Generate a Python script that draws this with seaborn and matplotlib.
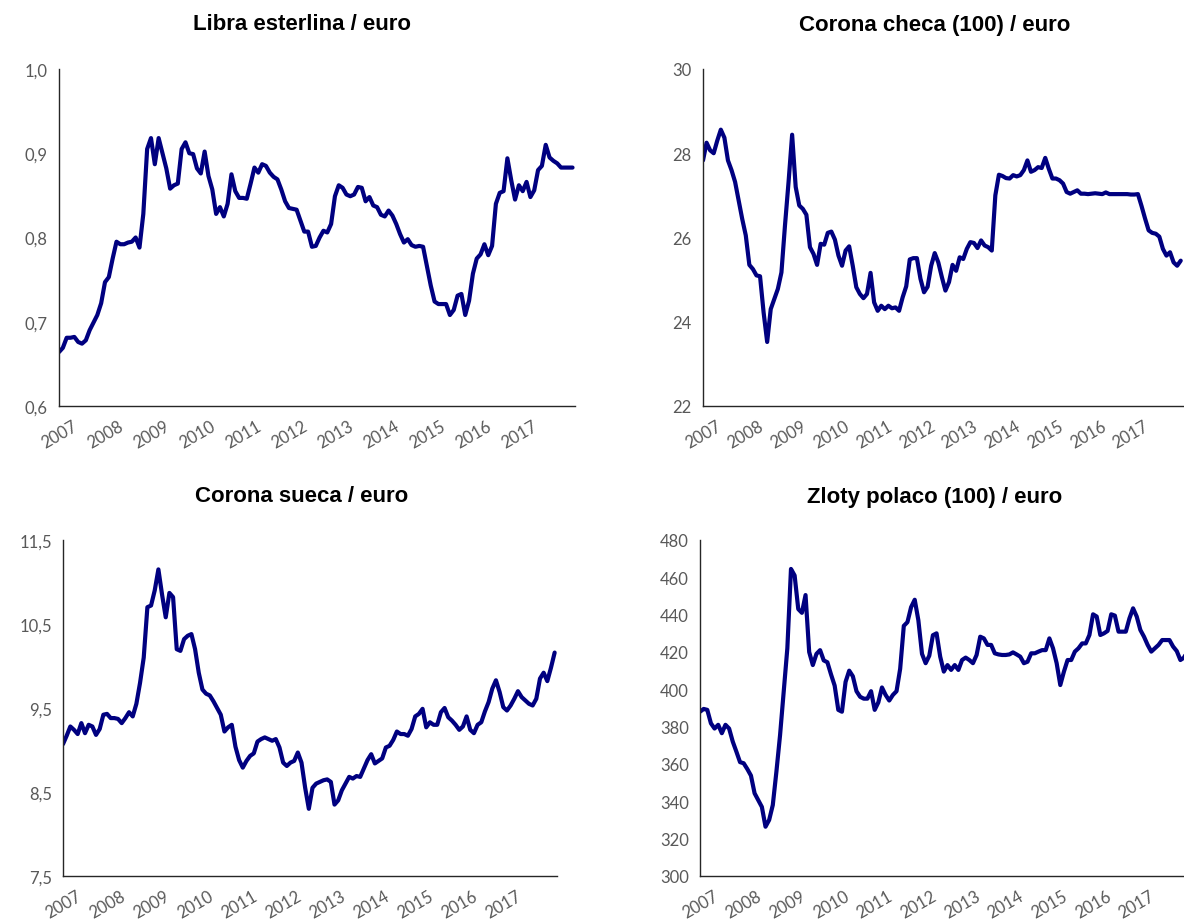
import numpy as np
import pandas as pd
import seaborn as sns
import matplotlib
matplotlib.use("Agg")
import matplotlib.pyplot as plt
from matplotlib.ticker import FuncFormatter

# monthly averages, Jan 2007 - Mar 2018
libra = [
    0.664, 0.669, 0.681, 0.681, 0.682, 0.676, 0.674, 0.678, 0.690, 0.699, 0.708, 0.722,
    0.747, 0.753, 0.775, 0.795, 0.792, 0.792, 0.794, 0.795, 0.800, 0.788, 0.828, 0.905,
    0.918, 0.887, 0.918, 0.900, 0.882, 0.858, 0.862, 0.864, 0.905, 0.913, 0.900, 0.899,
    0.882, 0.876, 0.902, 0.873, 0.857, 0.828, 0.836, 0.825, 0.840, 0.875, 0.855, 0.847,
    0.847, 0.846, 0.864, 0.883, 0.877, 0.887, 0.885, 0.877, 0.872, 0.869, 0.857, 0.843,
    0.835, 0.834, 0.833, 0.820, 0.807, 0.807, 0.789, 0.790, 0.800, 0.808, 0.806, 0.816,
    0.849, 0.862, 0.859, 0.851, 0.849, 0.851, 0.860, 0.859, 0.843, 0.848, 0.838, 0.836,
    0.827, 0.825, 0.832, 0.826, 0.816, 0.804, 0.794, 0.798, 0.791, 0.789, 0.790, 0.789,
    0.766, 0.743, 0.724, 0.721, 0.721, 0.721, 0.708, 0.714, 0.731, 0.733, 0.708, 0.725,
    0.757, 0.775, 0.780, 0.792, 0.779, 0.790, 0.840, 0.853, 0.855, 0.894, 0.868, 0.845,
    0.862, 0.855, 0.866, 0.848, 0.856, 0.880, 0.885, 0.910, 0.895, 0.891, 0.888, 0.883,
    0.883, 0.883, 0.883,
]

corona_checa = [
    27.83, 28.25, 28.07, 28.00, 28.30, 28.56, 28.37, 27.83, 27.60, 27.32, 26.88, 26.44,
    26.05, 25.35, 25.25, 25.10, 25.08, 24.22, 23.52, 24.30, 24.54, 24.78, 25.17, 26.29,
    27.32, 28.44, 27.20, 26.76, 26.68, 26.54, 25.77, 25.61, 25.35, 25.85, 25.83, 26.11,
    26.14, 25.95, 25.57, 25.33, 25.69, 25.79, 25.33, 24.82, 24.66, 24.56, 24.66, 25.16,
    24.46, 24.26, 24.38, 24.30, 24.38, 24.32, 24.34, 24.26, 24.58, 24.84, 25.48, 25.51,
    25.51, 25.02, 24.70, 24.83, 25.33, 25.63, 25.41, 25.06, 24.74, 24.94, 25.35, 25.21,
    25.53, 25.49, 25.73, 25.89, 25.87, 25.75, 25.93, 25.81, 25.77, 25.69, 27.00, 27.49,
    27.46, 27.41, 27.40, 27.48, 27.45, 27.48, 27.60, 27.83, 27.56, 27.60, 27.67, 27.65,
    27.89, 27.63, 27.40, 27.40, 27.36, 27.28, 27.08, 27.04, 27.08, 27.12, 27.04, 27.04,
    27.03, 27.04, 27.05, 27.04, 27.03, 27.07, 27.03, 27.03, 27.03, 27.03, 27.03, 27.03,
    27.02, 27.02, 27.03, 26.75, 26.45, 26.17, 26.11, 26.09, 26.02, 25.73, 25.57, 25.65,
    25.41, 25.33, 25.45,
]

corona_sueca = [
    9.07, 9.17, 9.28, 9.24, 9.19, 9.32, 9.20, 9.30, 9.28, 9.18, 9.25, 9.42,
    9.43, 9.38, 9.38, 9.37, 9.32, 9.38, 9.45, 9.40, 9.55, 9.80, 10.10, 10.70,
    10.72, 10.90, 11.15, 10.85, 10.58, 10.87, 10.82, 10.20, 10.18, 10.32, 10.36, 10.38,
    10.20, 9.92, 9.72, 9.67, 9.65, 9.58, 9.50, 9.42, 9.22, 9.27, 9.30, 9.04,
    8.88, 8.79, 8.87, 8.93, 8.96, 9.10, 9.13, 9.15, 9.13, 9.11, 9.13, 9.03,
    8.85, 8.81, 8.85, 8.87, 8.97, 8.85, 8.55, 8.30, 8.55, 8.60, 8.62, 8.64,
    8.65, 8.62, 8.35, 8.40, 8.52, 8.60, 8.68, 8.66, 8.69, 8.68, 8.78, 8.88,
    8.95, 8.84, 8.87, 8.90, 9.03, 9.05, 9.12, 9.22, 9.19, 9.19, 9.17, 9.25,
    9.40, 9.43, 9.49, 9.27, 9.33, 9.30, 9.30, 9.45, 9.50, 9.39, 9.35, 9.30,
    9.24, 9.28, 9.40, 9.24, 9.20, 9.30, 9.33, 9.46, 9.57, 9.73, 9.83, 9.69,
    9.51, 9.47, 9.53, 9.61, 9.70, 9.63, 9.59, 9.55, 9.53, 9.61, 9.85, 9.92,
    9.82, 9.98, 10.16,
]

zloty = [
    388.0, 389.5, 389.0, 381.8, 379.0, 381.0, 376.5, 381.0, 379.0, 372.0, 366.6, 361.0,
    360.4, 357.3, 353.8, 344.3, 340.7, 337.0, 326.4, 330.0, 338.0, 356.0, 375.5, 398.8,
    422.0, 464.5, 461.0, 443.0, 441.0, 450.5, 420.0, 413.0, 419.0, 421.0, 415.5, 414.5,
    408.0, 402.0, 389.0, 388.0, 404.0, 410.0, 407.0, 399.0, 396.0, 395.0, 395.0, 399.0,
    389.0, 393.0, 401.0, 397.0, 394.0, 397.0, 399.0, 411.0, 434.0, 436.0, 444.0, 448.0,
    437.0, 419.0, 414.0, 418.0, 429.0, 430.0, 417.5, 409.5, 413.0, 410.4, 413.0, 410.4,
    415.7, 417.0, 415.7, 414.0, 418.4, 428.2, 427.3, 423.8, 423.8, 419.3, 418.7, 418.4,
    418.4, 418.7, 419.8, 418.7, 417.5, 414.0, 414.8, 419.3, 419.3, 420.2, 421.0, 421.0,
    427.3, 422.0, 414.0, 402.3, 409.5, 415.7, 415.7, 420.2, 422.0, 424.6, 424.6, 429.1,
    440.2, 439.0, 429.1, 430.0, 431.3, 440.2, 439.5, 430.9, 430.9, 430.9, 438.0, 443.4,
    439.0, 431.8, 428.2, 423.8, 420.2, 422.0, 423.8, 426.4, 426.4, 426.4, 422.9, 420.5,
    415.7, 417.0, 421.0,
]

fechas = pd.date_range("2007-01-01", "2018-03-01", freq="MS")
anio = fechas.year + (fechas.month - 1) / 12

anios = list(range(2007, 2019))
etiquetas = [str(a) for a in range(2007, 2018)] + [""]

W, H = 1184, 920
AZUL = "#000080"
GRIS = "#595959"

sns.set_style("white")
plt.rcParams["font.family"] = ["Lato", "DejaVu Sans"]

fig = plt.figure(figsize=(W / 100, H / 100), dpi=100)


def eje(left, right, top, bottom):
    return fig.add_axes([left / W, 1 - bottom / H, (right - left) / W, (bottom - top) / H])


paneles = [
    ("Libra esterlina / euro", libra, (0.6, 1.0), np.arange(0.6, 1.01, 0.1), 1,
     (59, 575, 70, 407), (302, 25)),
    ("Corona checa (100) / euro", corona_checa, (22, 30), range(22, 31, 2), 0,
     (703, 1183, 70, 407), (935, 25)),
    ("Corona sueca / euro", corona_sueca, (7.5, 11.5), np.arange(7.5, 11.6, 1.0), 1,
     (63, 557, 541, 877), (302, 497)),
    ("Zloty polaco (100) / euro", zloty, (300, 480), range(300, 481, 20), 0,
     (700, 1190, 541, 877), (935, 497)),
]

for titulo, valores, ylim, yticks, dec, caja, pos in paneles:
    ax = eje(*caja)
    df = pd.DataFrame({"fecha": anio, "valor": valores})
    sns.lineplot(data=df, x="fecha", y="valor", ax=ax, color=AZUL, linewidth=3.0)

    ax.set_xlim(2007, 2018.22)
    ax.set_ylim(*ylim)
    ax.set_yticks(list(yticks))
    ax.yaxis.set_major_formatter(
        FuncFormatter(lambda v, p, d=dec: f"{v:.{d}f}".replace(".", ",")))
    ax.set_xticks(anios)
    ax.set_xticklabels(etiquetas, rotation=30, ha="center")
    ax.set_xlabel("")
    ax.set_ylabel("")

    for lado in ["top", "right"]:
        ax.spines[lado].set_visible(False)
    for lado in ["left", "bottom"]:
        ax.spines[lado].set_color("#262626")
        ax.spines[lado].set_linewidth(1.0)
    ax.tick_params(direction="out", length=5, width=1, color="#262626",
                   labelcolor=GRIS, labelsize=12, pad=3)

    fig.text(pos[0] / W, 1 - pos[1] / H, titulo, ha="center", va="center", color="black",
             fontsize=16, fontweight="bold", family=["Liberation Sans", "DejaVu Sans"])

fig.savefig("out.png", dpi=100)
